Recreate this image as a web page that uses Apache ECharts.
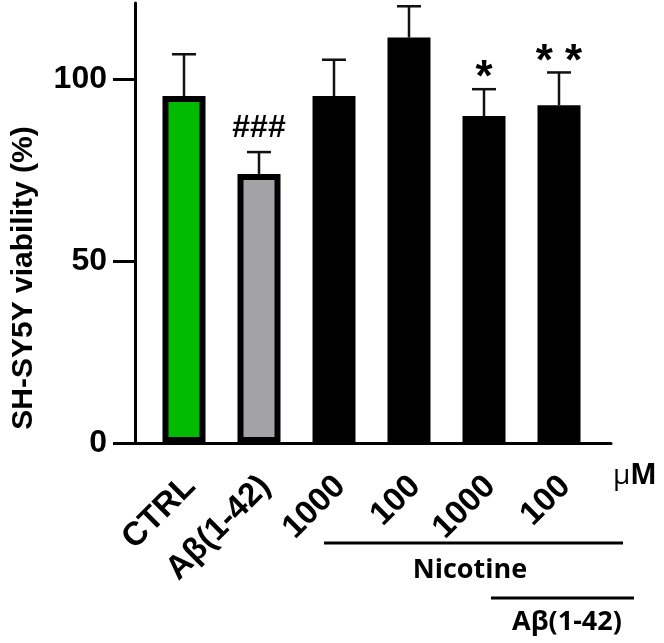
<!DOCTYPE html>
<html>
<head>
<meta charset="utf-8">
<script src="https://cdn.jsdelivr.net/npm/echarts@6/dist/echarts.min.js"></script>
<style>
html, body { margin: 0; padding: 0; background: #fff; }
#chart { width: 664px; height: 643px; }
</style>
</head>
<body>
<div id="chart"></div>
<script>
// groups on the x axis
var categories = ['CTRL', 'Aβ(1-42)', '1000', '100', '1000', '100'];
// mean viability (%)
var means = [95.4, 74.0, 95.4, 111.5, 89.9, 92.9];
// upper end of each error bar
var errTops = [106.9, 80.0, 105.4, 120.1, 97.3, 101.9];
// significance marks above the error bars
var marks = ['', '###', '', '', '*', '* *'];
var barColors = ['#00bb00', '#a3a3a7', '#000000', '#000000', '#000000', '#000000'];
var yTicks = [0, 50, 100];

var FONT = '"Liberation Sans", Arial, sans-serif';
var FONT2 = '"Open Sans", sans-serif';

function draw()
{
    var myChart = echarts.init(document.getElementById('chart'));

    var option = {
        animation: false,
        grid: [
            // bars
            { left: 146.5, right: 67.5, top: 3, bottom: 200 },
            // axis frame (a bit wider than the bars)
            { left: 135, right: 53, top: 3, bottom: 200 }
        ],
        xAxis: [
            {
                type: 'category', gridIndex: 0, data: categories,
                axisLine: { show: false },
                axisTick: { alignWithLabel: true, length: 19, lineStyle: { width: 3, color: '#000' } },
                axisLabel: { rotate: 45, margin: 32, interval: 0, verticalAlign: 'top', lineHeight: 18, fontSize: 33, fontWeight: 'bold', color: '#000', fontFamily: FONT }
            },
            {
                type: 'value', gridIndex: 1, min: 0, max: 1,
                axisLine: { show: true, lineStyle: { width: 3, color: '#000' } },
                axisTick: { show: false }, axisLabel: { show: false }, splitLine: { show: false },
                name: '{a|μ}{b|M}', nameLocation: 'end', nameGap: 2,
                nameTextStyle: {
                    padding: [66, 0, 0, 0],
                    rich: {
                        a: { fontSize: 28, fontFamily: FONT2, color: '#000' },
                        b: { fontSize: 28, fontWeight: 'bold', fontFamily: FONT2, color: '#000' }
                    }
                }
            }
        ],
        yAxis: [
            { type: 'value', gridIndex: 0, min: 0, max: 121, show: false },
            {
                type: 'value', gridIndex: 1, min: 0, max: 121,
                axisLine: { show: true, lineStyle: { width: 3, color: '#000' } },
                axisTick: { show: true, length: 22, customValues: yTicks, lineStyle: { width: 3, color: '#000' } },
                axisLabel: { customValues: yTicks, margin: 28, fontSize: 32, fontWeight: 'bold', color: '#000', fontFamily: FONT },
                splitLine: { show: false },
                name: 'SH-SY5Y viability (%)', nameLocation: 'middle', nameGap: 96,
                nameTextStyle: { fontSize: 30, fontWeight: 'bold', color: '#000', fontFamily: FONT, padding: [0, 110, 0, 0] }
            }
        ],
        series: [
            {
                type: 'bar', xAxisIndex: 0, yAxisIndex: 0, barWidth: 43,
                data: means.map(function (v, i) { return { value: v, itemStyle: { color: barColors[i] } }; }),
                itemStyle: { borderColor: '#000', borderWidth: 6 }
            },
            {
                type: 'custom', xAxisIndex: 0, yAxisIndex: 0,
                data: means.map(function (v, i) { return [i, v, errTops[i]]; }),
                renderItem: function (params, api) {
                    var lo = api.coord([api.value(0), api.value(1)]);
                    var hi = api.coord([api.value(0), api.value(2)]);
                    var half = 12;
                    var st = { stroke: '#111', lineWidth: 2.5 };
                    var kids = [
                        { type: 'line', shape: { x1: lo[0], y1: lo[1], x2: hi[0], y2: hi[1] }, style: st },
                        { type: 'line', shape: { x1: hi[0] - half, y1: hi[1], x2: hi[0] + half, y2: hi[1] }, style: st }
                    ];
                    var m = marks[params.dataIndex];
                    if (m) {
                        var star = m.indexOf('*') >= 0;
                        kids.push({
                            type: 'text',
                            style: {
                                text: m, x: hi[0], y: hi[1] - (star ? -12 : 8),
                                align: 'center', verticalAlign: 'bottom',
                                font: 'bold ' + (star ? 44 : 32) + 'px ' + FONT, fill: '#000'
                            }
                        });
                    }
                    return { type: 'group', children: kids };
                }
            }
        ],
        graphic: [
            { type: 'line', shape: { x1: 324, y1: 543, x2: 623, y2: 543 }, style: { stroke: '#000', lineWidth: 3 } },
            { type: 'text', style: { text: 'Nicotine', x: 470, y: 570, align: 'center', verticalAlign: 'middle', font: 'bold 27px ' + FONT2, fill: '#000' } },
            { type: 'line', shape: { x1: 491, y1: 598, x2: 634, y2: 598 }, style: { stroke: '#000', lineWidth: 3 } },
            { type: 'text', style: { text: 'Aβ(1-42)', x: 567, y: 622, align: 'center', verticalAlign: 'middle', font: 'bold 27px ' + FONT2, fill: '#000' } }
        ]
    };

    myChart.setOption(option);
}

draw();
</script>
</body>
</html>
